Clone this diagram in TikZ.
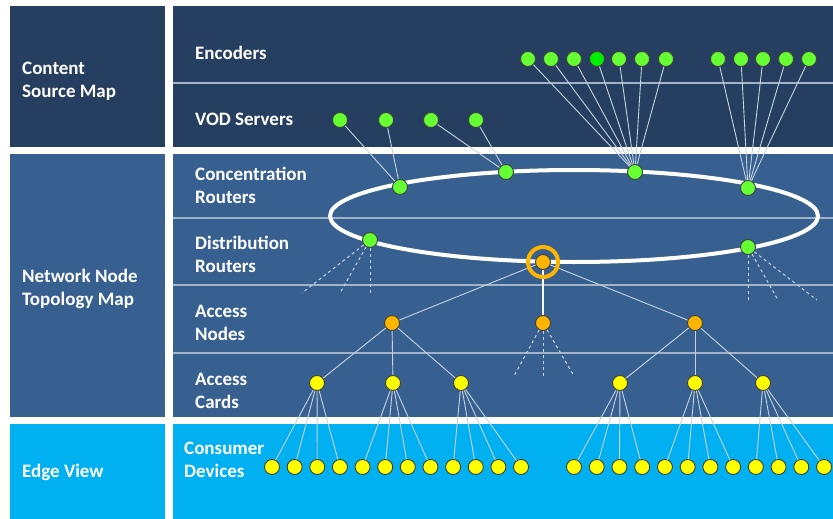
\documentclass[tikz,border=0pt]{standalone}
\usepackage{fontspec}
\setmainfont{Carlito}

\definecolor{topband}{RGB}{38,63,96}
\definecolor{midband}{RGB}{55,96,145}
\definecolor{edgeband}{RGB}{0,176,240}
\definecolor{rule}{RGB}{160,178,200}
\definecolor{wire}{RGB}{200,210,222}
\definecolor{srcgreen}{RGB}{102,255,51}
\definecolor{hotgreen}{RGB}{0,240,0}
\definecolor{amber}{RGB}{255,180,0}
\definecolor{devyellow}{RGB}{255,255,0}

\begin{document}
\begin{tikzpicture}[x=1pt,y=-1pt,
    lbl/.style={text=white, font=\bfseries\fontsize{19}{23}\selectfont, align=left, anchor=west, inner sep=0pt},
    hub/.style={circle, draw=black!75, line width=0.9pt, minimum size=15pt, inner sep=0pt},
    srcnode/.style={hub, fill=srcgreen},
    accnode/.style={hub, fill=amber},
    devnode/.style={hub, fill=devyellow},
    link/.style={draw=wire, line width=0.9pt},
    stub/.style={draw=wire, dashed, line width=1pt}]

    \useasboundingbox (0,0) rectangle (833,519);

    % Полосы слоёв
    \fill[topband] (10,6) rectangle (165,147);
    \fill[topband] (173,6) rectangle (833,147);
    \fill[midband] (10,154) rectangle (165,417);
    \fill[midband] (173,154) rectangle (833,417);
    \fill[edgeband] (10,424) rectangle (165,519);
    \fill[edgeband] (173,424) rectangle (833,519);

    % Разделители подслоёв
    \foreach \y in {83,218,285,353} { \draw[rule, line width=1.5pt] (173,\y) -- (833,\y); }

    % Подписи
    \node[lbl] (lcontent) at (22,81) {Content\\Source Map};
    \node[lbl] (lnetwork) at (22,289) {Network Node\\Topology Map};
    \node[lbl] (ledge) at (22,472) {Edge View};
    \node[lbl] (lenc) at (195,53) {Encoders};
    \node[lbl] (lvod) at (195,119) {VOD Servers};
    \node[lbl] (lconc) at (195,185) {Concentration\\Routers};
    \node[lbl] (ldist) at (195,254) {Distribution\\Routers};
    \node[lbl] (lan) at (195,323) {Access\\Nodes};
    \node[lbl] (lac) at (195,391) {Access\\Cards};
    \node[lbl] (lcd) at (184,460) {Consumer\\Devices};

    % Кольцо
    \draw[white, line width=4pt] (574,216) ellipse [x radius=244, y radius=46];

    % Источники
    \foreach \x [count=\i] in {528,551,574,597,619,642,666,718,741,763,786,809} { \node[srcnode] (enc\i) at (\x,59) {}; }
    \node[hub, fill=hotgreen] at (enc4) {};
    \foreach \x [count=\i] in {340,386,431,476} { \node[srcnode] (vod\i) at (\x,120) {}; }

    % Маршрутизаторы
    \node[srcnode] (cr1) at (400,187) {};
    \node[srcnode] (cr2) at (506,172) {};
    \node[srcnode] (cr3) at (635,172) {};
    \node[srcnode] (cr4) at (748,188) {};
    \node[srcnode] (dr1) at (370,240) {};
    \node[accnode] (dr2) at (543,262) {};
    \node[srcnode] (dr3) at (748,247) {};

    % Узлы и карты доступа
    \foreach \x [count=\i] in {392,543,695} { \node[accnode] (an\i) at (\x,323) {}; }
    \foreach \x [count=\i] in {317,393,461,620,695,763} { \node[devnode] (ac\i) at (\x,383) {}; }

    % Абонентские устройства
    \foreach \i in {1,...,12} { \node[devnode] (cd\i) at ({272+22.64*(\i-1)},467) {}; }
    \foreach \i in {13,...,24} { \node[devnode] (cd\i) at ({574+22.73*(\i-13)},467) {}; }

    % Связи
    \foreach \i in {1,...,7} { \draw[link] (enc\i) -- (cr3); }
    \foreach \i in {8,...,12} { \draw[link] (enc\i) -- (cr4); }
    \draw[link] (vod1) -- (cr1); \draw[link] (vod2) -- (cr1);
    \draw[link] (vod3) -- (cr2); \draw[link] (vod4) -- (cr2);
    \draw[link] (dr2) -- (an1); \draw[link] (dr2) -- (an3);
    \draw[white, line width=1.2pt] (dr2) -- (an2);
    \foreach \i in {1,2,3} { \draw[link] (an1) -- (ac\i); }
    \foreach \i in {4,5,6} { \draw[link] (an3) -- (ac\i); }
    \foreach \k in {1,...,6} { \foreach \j in {1,...,4} { \pgfmathtruncatemacro{\d}{4*(\k-1)+\j} \draw[link] (ac\k) -- (cd\d); } }

    % Обрывы
    \foreach \ex [count=\i] in {302,340,370} { \coordinate (dr1s\i) at (\ex,293); \draw[stub] (dr1) -- (dr1s\i); }
    \foreach \ex [count=\i] in {748,778,817} { \coordinate (dr3s\i) at (\ex,300); \draw[stub] (dr3) -- (dr3s\i); }
    \foreach \ex [count=\i] in {514,543,574} { \coordinate (an2s\i) at (\ex,376); \draw[stub] (an2) -- (an2s\i); }

    % Выделенный маршрутизатор
    \draw[amber, line width=4pt] (dr2) circle [radius=15];
\end{tikzpicture}
\end{document}
